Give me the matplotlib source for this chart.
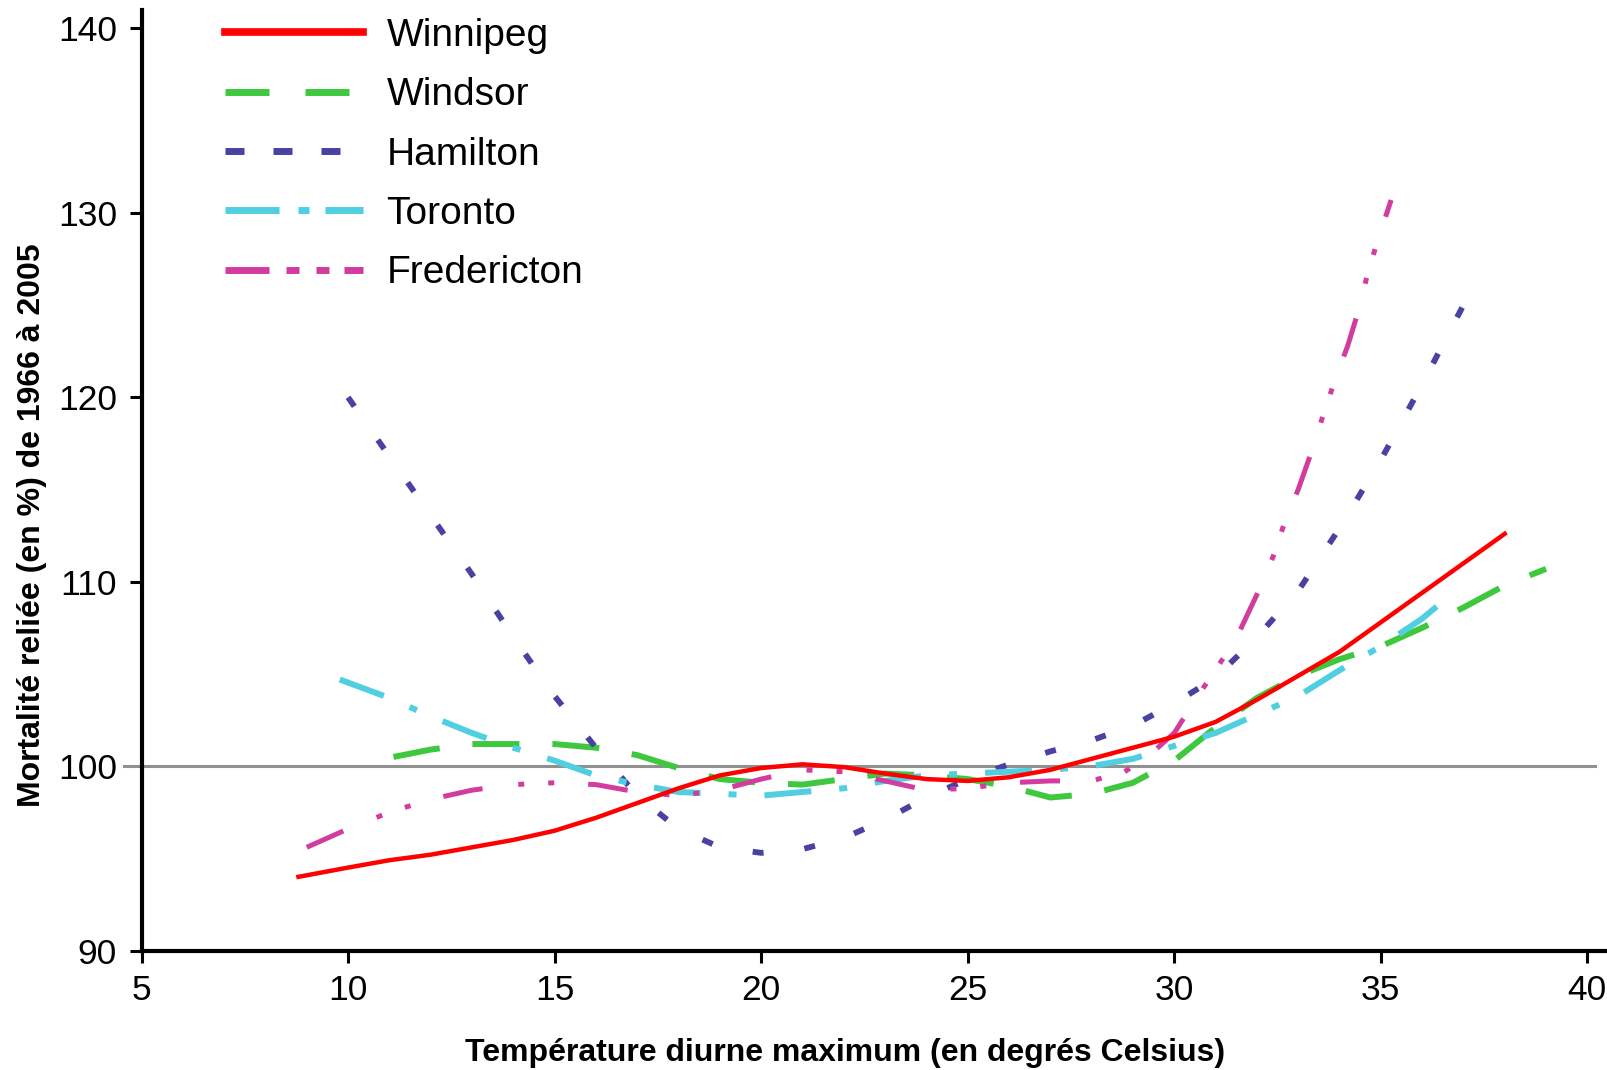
import matplotlib.pyplot as plt
from matplotlib.lines import Line2D

plt.rcParams['font.family'] = ['Liberation Sans', 'DejaVu Sans']

# temperature (deg C) / mortality (%)
winnipeg_t = [8.8, 10, 11, 12, 13, 14, 15, 16, 17, 18, 19, 20, 21, 22, 23, 24, 25,
              26, 27, 28, 29, 30, 31, 32, 33, 34, 35, 36, 37, 38]
winnipeg_v = [94.0, 94.5, 94.9, 95.2, 95.6, 96.0, 96.5, 97.2, 98.0, 98.8, 99.5, 99.9,
              100.1, 99.95, 99.6, 99.3, 99.2, 99.4, 99.8, 100.4, 101.0, 101.6, 102.4,
              103.6, 104.9, 106.2, 107.8, 109.4, 111.0, 112.6]

windsor_t = [11.1, 12, 13, 14, 15, 16, 17, 18, 19, 20, 21, 22, 23, 24, 25, 26, 27,
             28, 29, 30, 31, 32, 33, 34, 35, 36, 37, 38, 39]
windsor_v = [100.5, 100.9, 101.2, 101.2, 101.2, 101.0, 100.6, 99.9, 99.3, 99.1, 99.0,
             99.3, 99.6, 99.5, 99.3, 98.9, 98.3, 98.5, 99.1, 100.3, 102.1, 103.7, 104.9,
             105.8, 106.5, 107.5, 108.6, 109.8, 110.7]

hamilton_t = [10, 11, 12, 13, 14, 15, 16, 17, 18, 19, 20, 21, 22, 23, 24, 25, 26, 27,
              28, 29, 30, 31, 32, 33, 34, 35, 36, 37]
hamilton_v = [120.0, 116.8, 113.6, 110.4, 107.0, 103.8, 101.0, 98.4, 96.6, 95.6, 95.3,
              95.5, 96.1, 97.1, 98.3, 99.3, 100.1, 100.8, 101.4, 102.2, 103.4, 104.8,
              107.0, 109.5, 112.9, 116.6, 120.7, 125.0]

toronto_t = [9.8, 11, 12, 13, 14, 15, 16, 17, 18, 19, 20, 21, 22, 23, 24, 25, 26, 27,
             28, 29, 30, 31, 32, 33, 34, 35, 36, 36.7]
toronto_v = [104.7, 103.7, 102.7, 101.8, 101.0, 100.3, 99.5, 99.0, 98.6, 98.5, 98.4,
             98.6, 98.8, 99.2, 99.5, 99.6, 99.7, 99.8, 100.0, 100.4, 101.1, 101.8, 102.8,
             103.8, 105.2, 106.5, 108.0, 109.3]

fredericton_t = [9.0, 10, 11, 12, 13, 14, 15, 16, 17, 18, 19, 20, 21, 22, 23, 24, 25,
                 26, 27, 28, 28.8, 29.4, 30, 30.6, 31.2, 31.6, 32, 32.4, 32.7, 33, 33.3,
                 33.6, 33.9, 34.2, 34.5, 34.7, 35, 35.25]
fredericton_v = [95.6, 96.6, 97.5, 98.2, 98.7, 99.0, 99.1, 99.0, 98.6, 98.4, 98.7, 99.3,
                 99.8, 99.7, 99.2, 98.7, 98.8, 99.1, 99.2, 99.2, 99.7, 100.6, 101.8,
                 103.9, 105.9, 107.4, 109.3, 111.4, 113.4, 115.0, 116.9, 119.0, 121.0,
                 122.8, 125.0, 126.9, 129.0, 130.7]

x_ticks = [5, 10, 15, 20, 25, 30, 35, 40]
y_ticks = [90, 100, 110, 120, 130, 140]


def px_dashes(pattern, lw):
    # dash pattern given in pixels (dpi 100) -> matplotlib units (multiples of lw in pt)
    return tuple(p * 0.72 / lw for p in pattern)


fig = plt.figure(figsize=(16.08, 10.7), dpi=100)
ax = fig.add_axes([0.088, 0.1116, 0.912, 0.879])

# reference line at 100 %, runs a little past the left spine
ax.plot([4.58, 40.18], [100, 100], color='#909090', lw=2.2, clip_on=False, zorder=1)

green, blue, cyan, pink, red = '#3ec83e', '#4a42a2', '#4fcfe0', '#d23c9f', '#ff0000'

ax.plot(windsor_t, windsor_v, color=green, lw=4.3, dashes=px_dashes((47, 33), 4.3))
ax.plot(hamilton_t, hamilton_v, color=blue, lw=4.2, dashes=px_dashes((11, 41), 4.2))
ax.plot(toronto_t, toronto_v, color=cyan, lw=4.3,
        dashes=px_dashes((47, 28, 8, 28), 4.3))
ax.plot(fredericton_t, fredericton_v, color=pink, lw=3.6,
        dashes=px_dashes((40, 36, 6, 24, 6, 34), 3.6))
ax.plot(winnipeg_t, winnipeg_v, color=red, lw=3.2, zorder=3)

ax.set_xlim(5, 40.5)
ax.set_ylim(90, 141)
ax.set_xticks(x_ticks)
ax.set_yticks(y_ticks)

for side in ('top', 'right'):
    ax.spines[side].set_visible(False)
for side in ('left', 'bottom'):
    ax.spines[side].set_linewidth(3)
ax.tick_params(direction='out', length=8.6, width=2.2, labelsize=25.5)
ax.tick_params(axis='x', pad=8)
ax.tick_params(axis='y', pad=9)
ax.yaxis.get_major_ticks()[1].tick1line.set_visible(False)

ax.set_xlabel('Température diurne maximum (en degrés Celsius)', fontsize=23,
              fontweight='bold')
ax.set_ylabel('Mortalité reliée (en %) de 1966 à 2005', fontsize=23, fontweight='bold')
ax.xaxis.set_label_coords(0.4797, -0.109)
ax.xaxis.label.set_va('center')
ax.yaxis.set_label_coords(-0.0747, 0.4525)
ax.yaxis.label.set_va('center')

# legend keys use a tighter dash rhythm than the curves
handles = [
    Line2D([], [], color=red, lw=5.5),
    Line2D([], [], color=green, lw=5, dashes=px_dashes((44, 36), 5)),
    Line2D([], [], color=blue, lw=5, dashes=px_dashes((19, 29), 5)),
    Line2D([], [], color=cyan, lw=5, dashes=px_dashes((54, 19, 11, 16), 5)),
    Line2D([], [], color=pink, lw=5, dashes=px_dashes((44, 17, 13, 17, 13, 15), 5)),
]
labels = ['Winnipeg', 'Windsor', 'Hamilton', 'Toronto', 'Fredericton']
ax.legend(handles, labels, loc='upper left', bbox_to_anchor=(225 / 1608, 1 - 18 / 1070),
          bbox_transform=fig.transFigure, frameon=False, fontsize=28,
          handlelength=3.55, handletextpad=0.6, labelspacing=0.6,
          borderpad=0, borderaxespad=0)

fig.savefig('out.png', dpi=100)
